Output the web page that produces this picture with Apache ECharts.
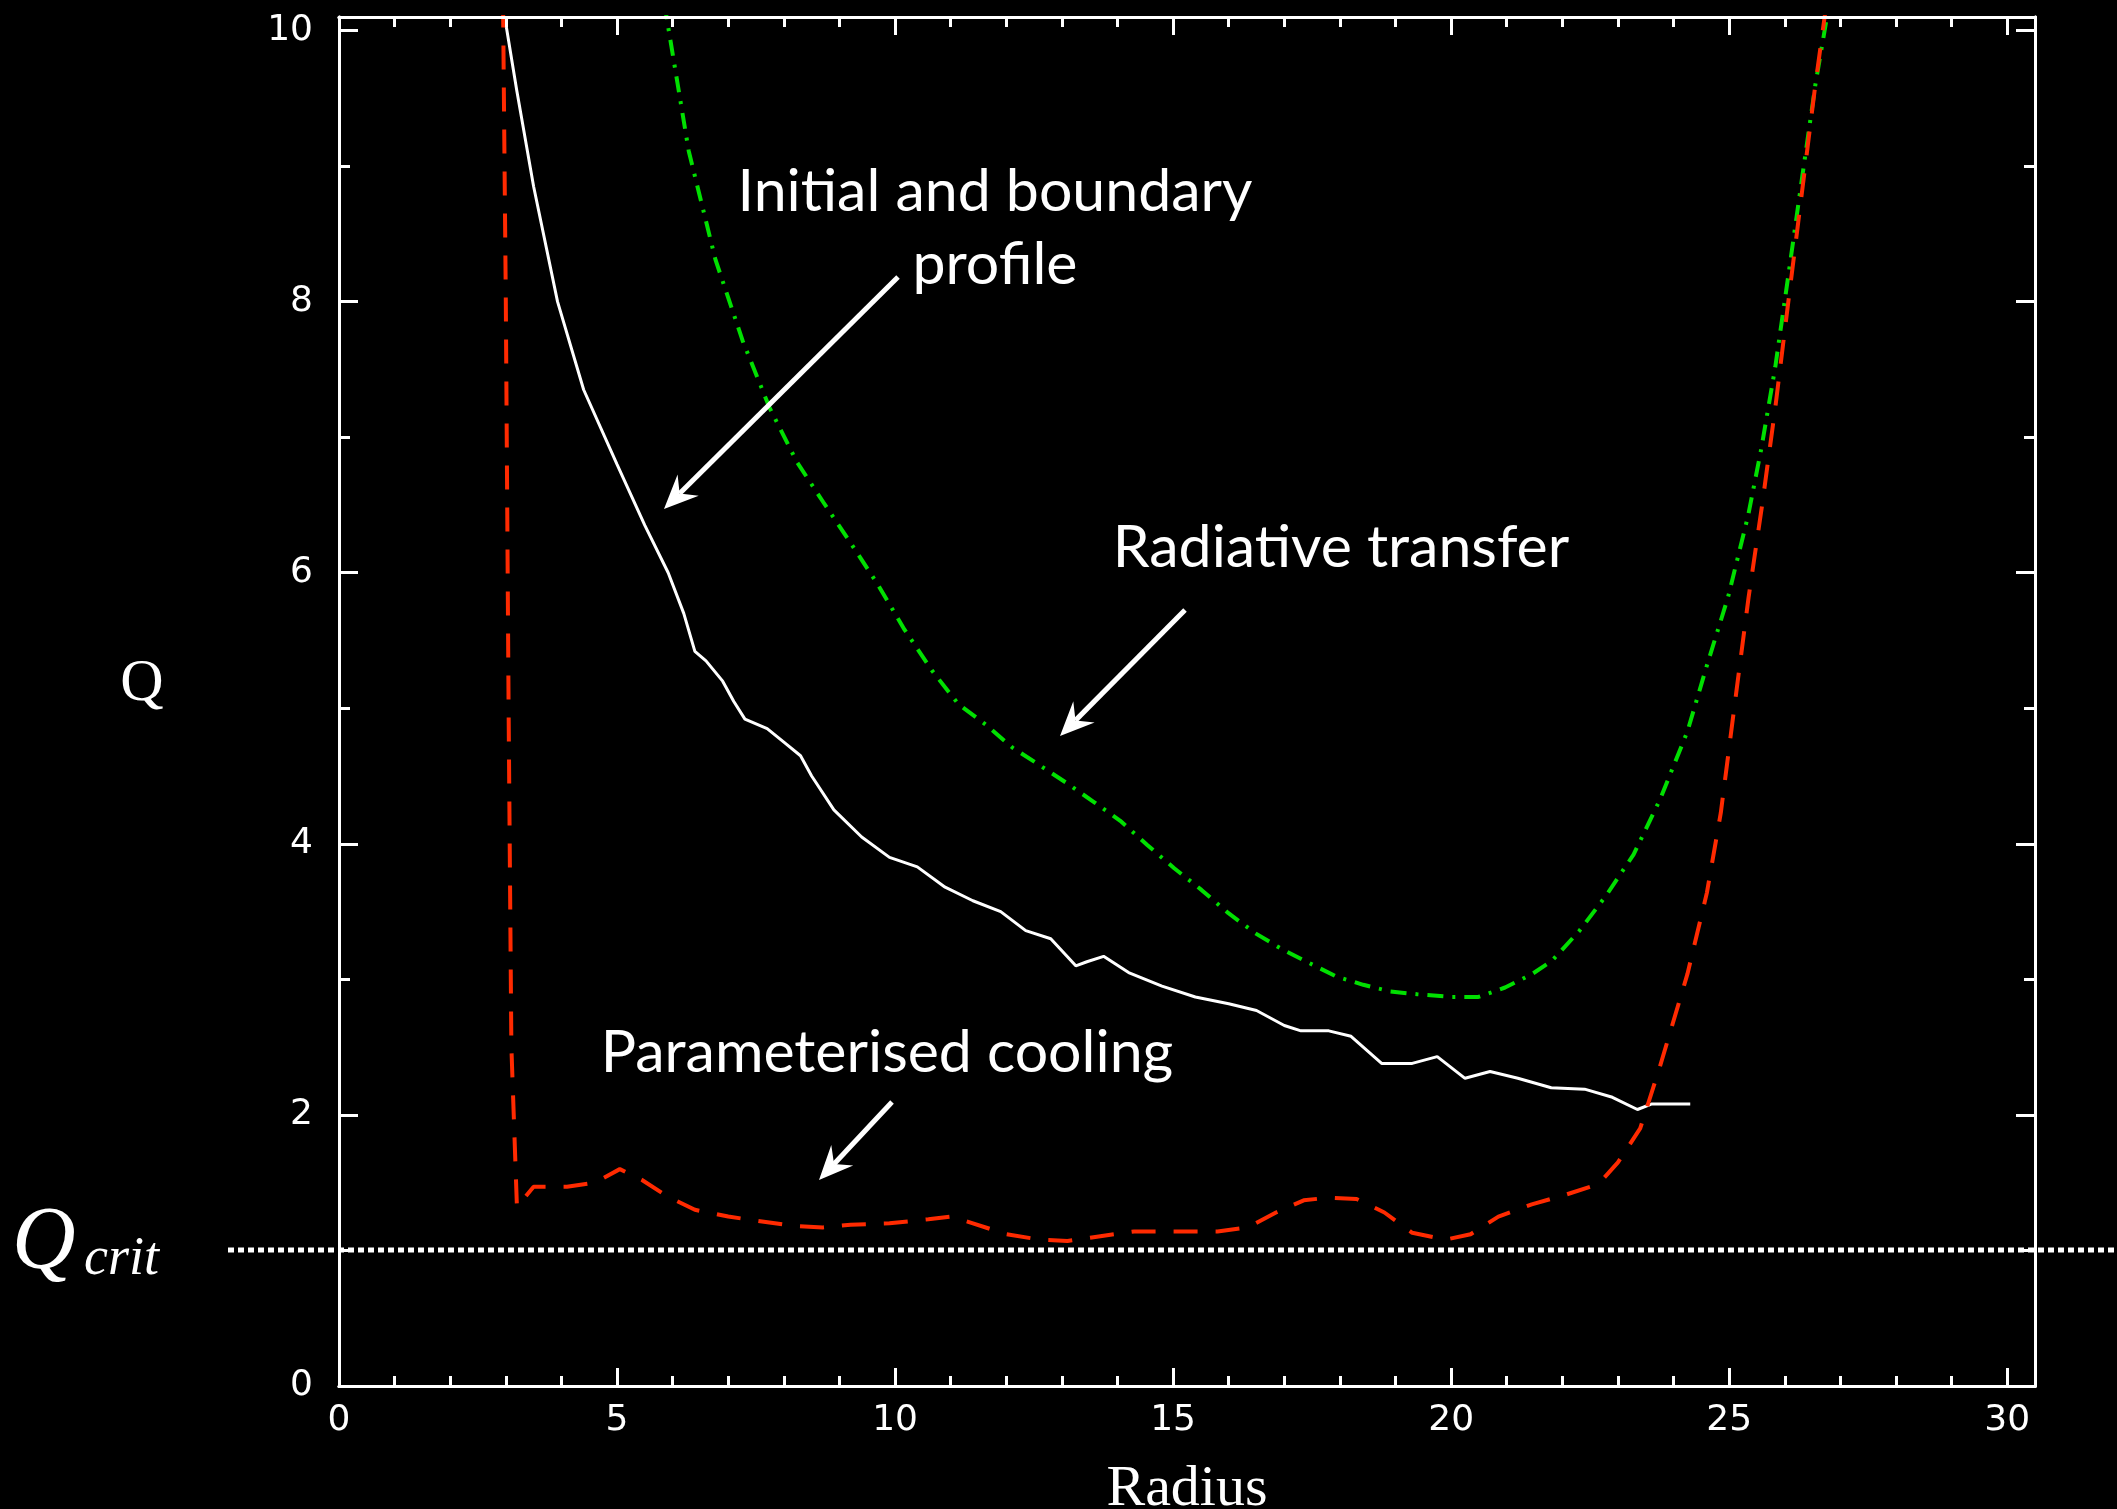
<!DOCTYPE html>
<html>
<head>
<meta charset="utf-8">
<script src="https://cdn.jsdelivr.net/npm/echarts@6/dist/echarts.min.js"></script>
<style>
  html, body { margin: 0; padding: 0; background: #000; }
  #chart { width: 2117px; height: 1509px; }
</style>
</head>
<body>
<div id="chart"></div>
<script>
// Toomre Q against radius for the three disc runs
const initialR = [2.98, 3.2, 3.5, 3.93, 4.4, 5.0, 5.5, 5.92, 6.2, 6.4, 6.6, 6.9, 7.1, 7.3, 7.7, 8.0, 8.3, 8.5, 8.9, 9.4, 9.9, 10.4, 10.9, 11.4, 11.9, 12.35, 12.8, 13.25, 13.45, 13.75, 14.2, 14.8, 15.4, 16.0, 16.5, 17.0, 17.3, 17.8, 18.2, 18.75, 19.3, 19.75, 20.25, 20.7, 21.2, 21.8, 22.4, 22.9, 23.35, 23.6, 24.3];
const initialQ = [10.1, 9.55, 8.85, 8.0, 7.35, 6.8, 6.35, 6.0, 5.7, 5.42, 5.35, 5.2, 5.05, 4.92, 4.85, 4.75, 4.65, 4.5, 4.25, 4.05, 3.9, 3.83, 3.68, 3.58, 3.5, 3.36, 3.3, 3.1, 3.13, 3.17, 3.05, 2.95, 2.87, 2.82, 2.77, 2.66, 2.62, 2.62, 2.58, 2.38, 2.38, 2.43, 2.27, 2.32, 2.27, 2.2, 2.19, 2.13, 2.04, 2.08, 2.08];

const coolingR = [2.95, 3.0, 3.05, 3.1, 3.2, 3.5, 4.1, 4.6, 5.05, 5.45, 5.9, 6.4, 7.0, 7.5, 8.2, 8.7, 9.2, 9.9, 10.6, 11.0, 11.4, 12.0, 12.6, 13.1, 13.6, 14.3, 15.0, 15.8, 16.35, 16.85, 17.35, 17.8, 18.3, 18.8, 19.3, 19.9, 20.35, 20.85, 21.45, 22.05, 22.65, 23.0, 23.4, 23.75, 24.25, 24.6, 24.85, 25.1, 25.35, 25.6, 25.83, 26.07, 26.31, 26.55, 26.75];
const coolingQ = [10.2, 8.0, 5.0, 2.5, 1.32, 1.47, 1.47, 1.5, 1.6, 1.52, 1.4, 1.3, 1.25, 1.22, 1.18, 1.17, 1.19, 1.2, 1.23, 1.25, 1.2, 1.12, 1.08, 1.07, 1.1, 1.14, 1.14, 1.14, 1.17, 1.28, 1.37, 1.39, 1.38, 1.28, 1.13, 1.08, 1.12, 1.25, 1.34, 1.41, 1.49, 1.65, 1.9, 2.35, 3.04, 3.64, 4.23, 5.03, 5.82, 6.52, 7.22, 8.02, 8.81, 9.6, 10.2];

const radiativeR = [5.85, 6.29, 6.77, 7.26, 7.74, 8.23, 8.71, 9.2, 9.68, 10.17, 10.66, 11.14, 11.63, 12.11, 12.6, 13.08, 13.57, 14.05, 14.54, 15.02, 15.51, 15.99, 16.48, 16.97, 17.45, 17.94, 18.42, 18.91, 19.39, 20.0, 20.49, 20.97, 21.46, 21.82, 22.31, 22.79, 23.28, 23.76, 24.25, 24.61, 24.98, 25.34, 25.58, 25.83, 26.07, 26.31, 26.55, 26.8];
const radiativeQ = [10.2, 9.11, 8.31, 7.71, 7.22, 6.82, 6.52, 6.22, 5.92, 5.58, 5.28, 5.03, 4.88, 4.71, 4.58, 4.45, 4.31, 4.17, 3.99, 3.82, 3.66, 3.49, 3.34, 3.22, 3.12, 3.02, 2.96, 2.91, 2.89, 2.87, 2.87, 2.94, 3.04, 3.14, 3.36, 3.62, 3.92, 4.33, 4.83, 5.33, 5.82, 6.42, 6.92, 7.52, 8.21, 8.91, 9.6, 10.2];

const qCrit = 1;

const xMajorTicks = [0, 5, 10, 15, 20, 25, 30];
const xMinorTicks = [1, 2, 3, 4, 6, 7, 8, 9, 11, 12, 13, 14, 16, 17, 18, 19, 21, 22, 23, 24, 26, 27, 28, 29];
const yMajorTicks = [0, 2, 4, 6, 8, 10];
const yMinorTicks = [1, 3, 5, 7, 9];

const X_MIN = 0, X_MAX = 30.5;
const Y_MIN = 0, Y_MAX = 10.1;

function pairs(r, q) { return r.map((v, i) => [v, q[i]]); }

const WHITE = '#ffffff';
const tickLabel = { color: WHITE, fontFamily: 'DejaVu Sans', fontSize: 36 };

function frameAxis(position, ticks, length, withLabels, extra) {
  const isX = position === 'top' || position === 'bottom';
  return Object.assign({
    type: 'value',
    position: position,
    min: isX ? X_MIN : Y_MIN,
    max: isX ? X_MAX : Y_MAX,
    axisLine: { show: true, onZero: false, lineStyle: { color: WHITE, width: 3 } },
    axisTick: { show: true, inside: true, length: length, customValues: ticks,
                lineStyle: { color: WHITE, width: 3 } },
    axisLabel: withLabels
      ? Object.assign({ show: true, customValues: ticks, margin: isX ? 17 : 26 }, tickLabel)
      : { show: false },
    splitLine: { show: false },
    minorTick: { show: false },
    z: 10
  }, extra || {});
}

const chart = echarts.init(document.getElementById('chart'), null, { renderer: 'canvas' });

const option = {
  backgroundColor: '#000',
  animation: false,
  grid: { left: 339, right: 82, top: 17, bottom: 123, containLabel: false, outerBoundsMode: 'none' },
  xAxis: [
    frameAxis('bottom', xMajorTicks, 18, true, {
      name: 'Radius', nameLocation: 'middle', nameGap: 75,
      nameTextStyle: { color: WHITE, fontFamily: 'Liberation Serif', fontSize: 58 }
    }),
    frameAxis('bottom', xMinorTicks, 10, false),
    frameAxis('top', xMajorTicks, 18, false),
    frameAxis('top', xMinorTicks, 10, false)
  ],
  yAxis: [
    frameAxis('left', yMajorTicks, 19, true),
    frameAxis('left', yMinorTicks, 11, false),
    frameAxis('right', yMajorTicks, 19, false),
    frameAxis('right', yMinorTicks, 11, false)
  ],
  series: [
    {
      name: 'Radiative transfer', type: 'line', xAxisIndex: 0, yAxisIndex: 0,
      data: pairs(radiativeR, radiativeQ), showSymbol: false, clip: true, z: 3,
      lineStyle: { color: '#00e000', width: 4, type: [16, 9, 3, 9], cap: 'butt' }
    },
    {
      name: 'Initial and boundary profile', type: 'line', xAxisIndex: 0, yAxisIndex: 0,
      data: pairs(initialR, initialQ), showSymbol: false, clip: true, z: 4,
      lineStyle: { color: WHITE, width: 3, type: 'solid' }
    },
    {
      name: 'Parameterised cooling', type: 'line', xAxisIndex: 0, yAxisIndex: 0,
      data: pairs(coolingR, coolingQ), showSymbol: false, clip: true, z: 5,
      lineStyle: { color: '#ff2a00', width: 4, type: [24, 18], cap: 'butt' }
    }
  ]
};
chart.setOption(option);

// Arrow from (x1,y1) to the tip (x2,y2) with a notched head
function arrow(x1, y1, x2, y2) {
  const dx = x2 - x1, dy = y2 - y1;
  const len = Math.sqrt(dx * dx + dy * dy);
  const ux = dx / len, uy = dy / len;
  const px = -uy, py = ux;
  const headLen = 34, headHalf = 15, notch = 22;
  const bx = x2 - ux * headLen, by = y2 - uy * headLen;
  const nx = x2 - ux * notch, ny = y2 - uy * notch;
  return [
    { type: 'line', z: 20, shape: { x1: x1, y1: y1, x2: nx, y2: ny },
      style: { stroke: WHITE, lineWidth: 5 } },
    { type: 'polygon', z: 20, shape: { points: [
        [x2, y2], [bx + px * headHalf, by + py * headHalf], [nx, ny], [bx - px * headHalf, by - py * headHalf]
      ] }, style: { fill: WHITE } }
  ];
}

function label(text, x, y, size) {
  return { type: 'text', z: 20, x: x, y: y, style: {
    text: text, fill: WHITE, fontFamily: 'Lato', fontSize: size,
    align: 'center', verticalAlign: 'middle', lineHeight: 73
  } };
}

const critY = Math.round(chart.convertToPixel({ yAxisIndex: 0 }, qCrit));

const graphics = [
  // y-axis title
  { type: 'text', z: 20, x: 142, y: 684, style: {
      text: 'Q', fill: WHITE, fontFamily: 'Liberation Serif', fontSize: 60,
      align: 'center', verticalAlign: 'middle' } },
  // Q_crit reference level
  { type: 'line', z: 15, shape: { x1: 228, y1: critY, x2: 2117, y2: critY },
    style: { stroke: WHITE, lineWidth: 5, lineDash: [6, 4] } },
  { type: 'text', z: 20, x: 12, y: critY - 6, style: {
      text: 'Q', fill: WHITE, fontFamily: 'Liberation Serif', fontStyle: 'italic',
      fontSize: 88, align: 'left', verticalAlign: 'middle' } },
  { type: 'text', z: 20, x: 84, y: critY + 10, style: {
      text: 'crit', fill: WHITE, fontFamily: 'Liberation Serif', fontStyle: 'italic',
      fontSize: 54, align: 'left', verticalAlign: 'middle' } },
  label('Initial and boundary\nprofile', 995, 228, 59),
  label('Radiative transfer', 1341, 548, 59),
  label('Parameterised cooling', 887, 1053, 59)
]
  .concat(arrow(898, 277, 664, 509))
  .concat(arrow(1185, 610, 1060, 736))
  .concat(arrow(892, 1102, 819, 1180));

chart.setOption({ graphic: { elements: graphics } });
</script>
</body>
</html>
